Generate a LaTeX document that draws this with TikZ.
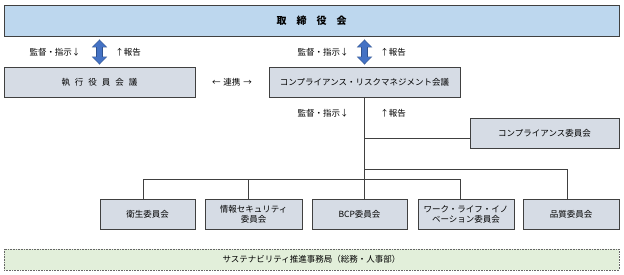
\documentclass[tikz,border=0pt]{standalone}
\usepackage{fontspec}
\setmainfont{Noto Sans CJK JP}
\usepackage{xcolor}
\usetikzlibrary{arrows.meta}
\definecolor{boardblue}{HTML}{BDD7EE}
\definecolor{boxgray}{HTML}{D6DCE5}
\definecolor{secgreen}{HTML}{E2EFDA}
\definecolor{arrowblue}{HTML}{4472C4}
\definecolor{arrowedge}{HTML}{2F528F}
\definecolor{linegray}{HTML}{404040}
\begin{document}
\begin{tikzpicture}[x=1pt,y=-1pt,
  orgbox/.style={draw=linegray,line width=0.9pt,fill=boxgray,inner sep=0pt,minimum height=30pt,align=center,font=\fontsize{8.5}{10}\selectfont,text=black},
  lbl/.style={inner sep=0pt,font=\fontsize{8.5}{10}\selectfont,text=black},
  link/.style={draw=linegray,line width=0.9pt},
  bigedge/.style={line width=7pt,arrowedge,{Triangle[length=8pt,width=15pt]}-{Triangle[length=8pt,width=15pt]},shorten <=3pt,shorten >=2pt},
  bigarrow/.style={line width=5.5pt,arrowblue,{Triangle[length=6.5pt,width=12.5pt]}-{Triangle[length=6.5pt,width=12.5pt]},shorten <=4pt,shorten >=3pt}]
\useasboundingbox (0,0) rectangle (624,274);
% top
\node[orgbox,fill=boardblue,minimum width=615pt,minimum height=31pt,font=\fontsize{10}{12}\selectfont\bfseries] (board) at (311.5,20.5) {取　締　役　会};
\node[orgbox,minimum width=191pt] (exec) at (99.5,82) {執\hspace{5pt}行\hspace{5pt}役\hspace{5pt}員\hspace{5pt}会\hspace{5pt}議};
\node[orgbox,minimum width=191pt] (crm) at (364.5,82) {コンプライアンス・リスクマネジメント会議};
\node[orgbox,minimum width=149pt] (comp) at (544.5,133) {コンプライアンス委員会};
% committees
\node[orgbox,minimum width=95pt] (eisei) at (147.5,214) {衛生委員会};
\node[orgbox,minimum width=97pt] (joho) at (253.5,214) {情報セキュリティ\\委員会};
\node[orgbox,minimum width=95pt] (bcp) at (359.5,214) {BCP委員会};
\node[orgbox,minimum width=96pt] (work) at (466,214) {ワーク・ライフ・イノ\\ベーション委員会};
\node[orgbox,minimum width=96pt] (quality) at (571,214) {品質委員会};
\node[orgbox,draw=black!60,line width=0.6pt,densely dotted,fill=secgreen,minimum width=615pt,minimum height=21pt] (office) at (311.5,259.5) {サステナビリティ推進事務局（総務・人事部）};
% arrows and labels
\draw[bigedge] (exec.north |- board.south) -- (exec.north);
\draw[bigarrow] (exec.north |- board.south) -- (exec.north);
\draw[bigedge] (crm.north |- board.south) -- (crm.north);
\draw[bigarrow] (crm.north |- board.south) -- (crm.north);
\node[lbl] (lsup) at (55,52) {監督・指示↓};
\node[lbl] (lrep) at (128,52) {↑報告};
\node[lbl] (rsup) at (323,52) {監督・指示↓};
\node[lbl] (rrep) at (393,52) {↑報告};
\node[lbl] (coop) at (232,82) {←\hspace{3pt}連携\hspace{3pt}→};
\node[lbl] (csup) at (323,113) {監督・指示↓};
\node[lbl] (crep) at (393,113) {↑報告};
% tree
\coordinate (jc) at (365,138);
\coordinate (j1) at (365,169);
\coordinate (j2a) at (143,179);
\coordinate (j2b) at (248,179);
\coordinate (j2c) at (460,179);
\draw[link] (crm.south) -- (crm.south |- bcp.north);
\draw[link] (jc) -- (comp.west |- jc);
\draw[link] (j1) -| ([xshift=-4pt]quality.north);
\draw[link] ([xshift=-4.5pt]eisei.north) -- (j2a) -- (j2c) -- ([xshift=-6pt]work.north);
\draw[link] (j2b) -- ([xshift=-5.5pt]joho.north);
\end{tikzpicture}
\end{document}
